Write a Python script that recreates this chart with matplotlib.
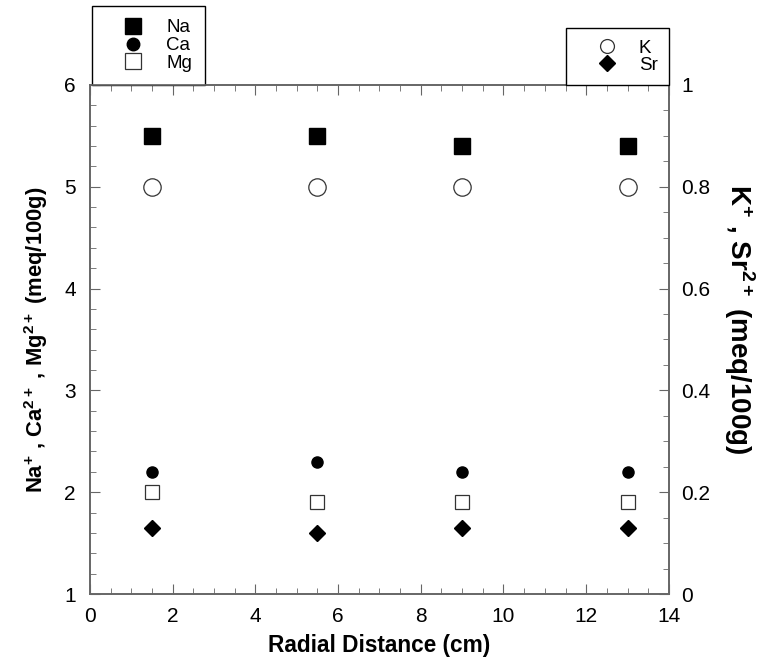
import matplotlib
matplotlib.use("Agg")
import matplotlib.pyplot as plt
from matplotlib.ticker import MultipleLocator
from matplotlib.lines import Line2D

plt.rcParams['font.family'] = ['Liberation Sans', 'DejaVu Sans']
plt.rcParams['mathtext.fontset'] = 'custom'
plt.rcParams['mathtext.rm'] = 'Liberation Sans'
plt.rcParams['mathtext.bf'] = 'Liberation Sans:bold'

# data (meq/100g) vs radial distance (cm)
distance = [1.5, 5.5, 9.0, 13.0]
na = [5.5, 5.5, 5.4, 5.4]
ca = [2.2, 2.3, 2.2, 2.2]
mg = [2.0, 1.9, 1.9, 1.9]
k = [0.8, 0.8, 0.8, 0.8]
sr = [0.13, 0.12, 0.13, 0.13]

spine_col = '#666666'

fig = plt.figure(figsize=(7.68, 6.62), dpi=100)
ax = fig.add_axes([0.117, 0.1027, 0.754, 0.769])
ax2 = ax.twinx()

ax.plot(distance, na, 's', color='black', markersize=12, linestyle='none')
ax.plot(distance, ca, 'o', color='black', markersize=8, linestyle='none')
ax.plot(distance, mg, 's', markerfacecolor='white', markeredgecolor='#333333',
        markeredgewidth=0.9, markersize=9.5, linestyle='none')
ax2.plot(distance, k, 'o', markerfacecolor='white', markeredgecolor='#333333',
         markeredgewidth=0.9, markersize=12.5, linestyle='none')
ax2.plot(distance, sr, 'D', color='black', markersize=8, linestyle='none')

ax.set_xlim(0, 14)
ax.set_ylim(1, 6)
ax2.set_ylim(0, 1)

ax.xaxis.set_major_locator(MultipleLocator(2))
ax.xaxis.set_minor_locator(MultipleLocator(0.5))
ax.yaxis.set_major_locator(MultipleLocator(1))
ax.yaxis.set_minor_locator(MultipleLocator(0.2))
ax2.yaxis.set_minor_locator(MultipleLocator(0.05))
ax2.set_yticks([0, 0.2, 0.4, 0.6, 0.8, 1])
ax2.set_yticklabels(['0', '0.2', '0.4', '0.6', '0.8', '1'])

ax.tick_params(axis='x', which='both', direction='in', top=True, colors=spine_col,
               labelcolor='black', labelsize=15, pad=9)
ax.tick_params(axis='y', which='both', direction='in', right=False, colors=spine_col,
               labelcolor='black', labelsize=15, pad=10)
ax2.tick_params(axis='y', which='both', direction='in', colors=spine_col,
                labelcolor='black', labelsize=15, pad=9)
for a in (ax, ax2):
    a.tick_params(which='major', length=7)
    a.tick_params(which='minor', length=4)
    for s in a.spines.values():
        s.set_color(spine_col)
        s.set_linewidth(1.2)

ax.set_xlabel('Radial Distance (cm)', fontsize=16.3, fontweight='bold', labelpad=6)
ax.set_ylabel(r'Na$^{\mathbf{+}}$ , Ca$^{\mathbf{2+}}$ , Mg$^{\mathbf{2+}}$ (meq/100g)',
              fontsize=15.8, fontweight='bold', labelpad=10)
ax2.set_ylabel(r'K$^{\mathbf{+}}$ , Sr$^{\mathbf{2+}}$ (meq/100g)',
               fontsize=20, fontweight='bold', rotation=270, labelpad=33)
# the right label sits a little above the middle of the axis
ax2.yaxis.label.set_y(0.54)

# legends above the plot
h_left = [
    Line2D([], [], marker='s', color='black', markersize=11.5, linestyle='none'),
    Line2D([], [], marker='o', color='black', markersize=9, linestyle='none'),
    Line2D([], [], marker='s', markerfacecolor='white', markeredgecolor='#333333',
           markeredgewidth=0.9, markersize=11.5, linestyle='none'),
]
leg1 = ax.legend(h_left, ['Na', 'Ca', 'Mg'], loc='lower left', bbox_to_anchor=(0.003, 1.0),
                 borderaxespad=0, fancybox=False, framealpha=1, edgecolor='black',
                 fontsize=13.5, labelspacing=0.03, handletextpad=0.27, borderpad=0.7,
                 handlelength=3.0)
leg1.get_frame().set_linewidth(1.0)

h_right = [
    Line2D([], [], marker='o', markerfacecolor='white', markeredgecolor='#333333',
           markeredgewidth=0.9, markersize=10, linestyle='none'),
    Line2D([], [], marker='D', color='black', markersize=8, linestyle='none'),
]
leg2 = ax2.legend(h_right, ['K', 'Sr'], loc='lower right', bbox_to_anchor=(1.0, 1.0),
                  borderaxespad=0, fancybox=False, framealpha=1, edgecolor='black',
                  fontsize=13.5, labelspacing=0.0, handletextpad=0.1, borderpad=0.6,
                  handlelength=3.2)
leg2.get_frame().set_linewidth(1.0)

fig.savefig('out.png', dpi=100)
